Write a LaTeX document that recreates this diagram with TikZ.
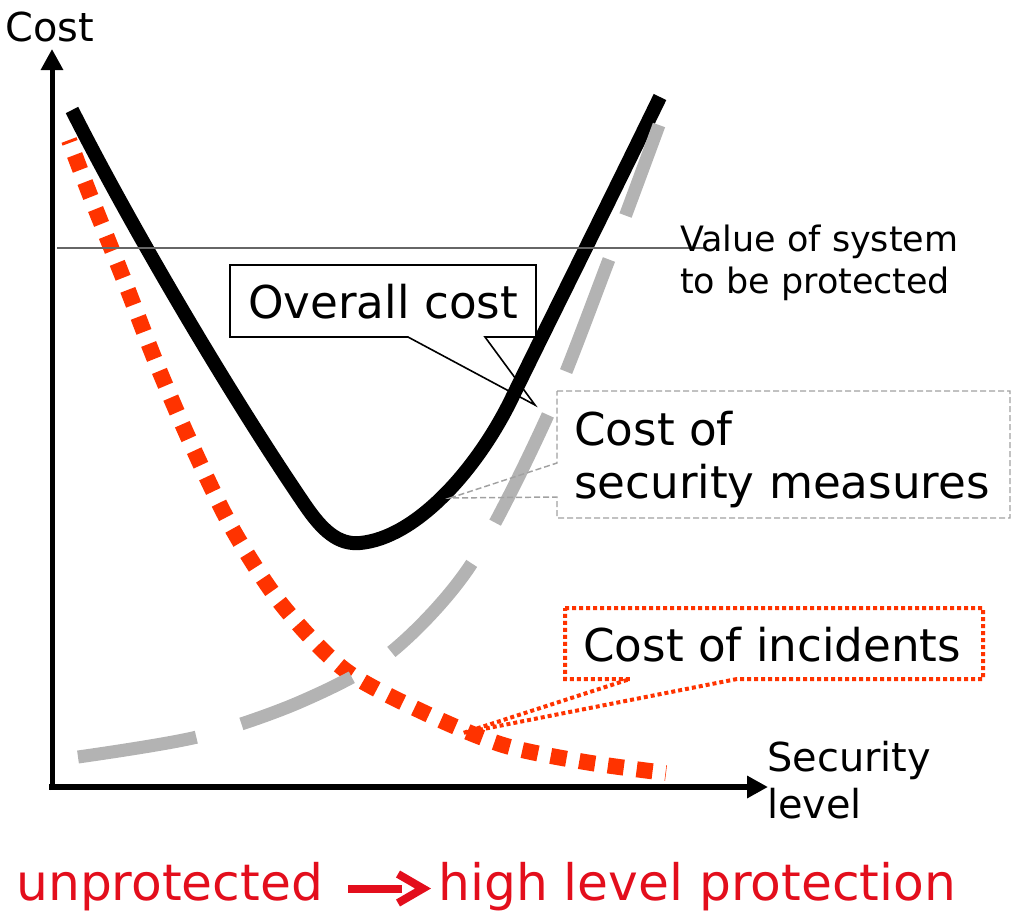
\documentclass[tikz,border=0pt]{standalone}
\usepackage{fontspec}
\setmainfont{DejaVu Sans}
\usetikzlibrary{arrows.meta}
\definecolor{grayc}{HTML}{B3B3B3}
\definecolor{orangec}{HTML}{FF3300}
\definecolor{redc}{HTML}{E30E1C}
\definecolor{valc}{HTML}{666666}
\begin{document}
\begin{tikzpicture}[x=0.75pt,y=-0.75pt,
  lbl/.style={inner sep=0pt, anchor=base west},
  bigfont/.style={font=\fontsize{33.9}{40}\selectfont},
  valfont/.style={font=\fontsize{26.2}{31}\selectfont},
  axfont/.style={font=\fontsize{29.9}{35}\selectfont},
  redfont/.style={font=\fontsize{37.7}{44}\selectfont, text=redc},
  axisline/.style={line width=#1, -{Triangle[length=15.75pt,width=16pt]}},
  overallcurve/.style={line width=10.5pt, black},
  securitycurve/.style={line width=9.75pt, grayc, dash pattern=on 90pt off 35.25pt},
  incidentcurve/.style={line width=12pt, orangec, dash pattern=on 12pt off 9.75pt, dash phase=9.75pt},
  calloutplain/.style={line width=1.2pt, black},
  calloutgray/.style={line width=1.1pt, grayc!90!black, dash pattern=on 4.5pt off 2.25pt},
  calloutred/.style={line width=3pt, orangec, dash pattern=on 3pt off 2.25pt},
  redarrow/.style={line width=6pt, redc}
]
\useasboundingbox (0,0) rectangle (1014,914);

% axes
\coordinate (O) at (52,787);
\coordinate (ytip) at (52,49);
\coordinate (xstart) at (49,787);
\coordinate (xtip) at (768,787);
\draw[axisline=3.75pt] (52,790) -- (ytip);
\draw[axisline=4.9pt] (xstart) -- (xtip);

% curves
\draw[incidentcurve] plot[smooth, tension=0.5] coordinates {(69,140) (90,195) (124,280) (157,365) (193,448) (233,530) (282,605) (345,670) (425,713) (503,745) (585,762) (666,773)};
\draw[overallcurve] (72,110) .. controls (130,225) and (230,395) .. (305,505)
  .. controls (322,530) and (338,545) .. (360,543)
  .. controls (415,538) and (475,472) .. (510,402)
  .. controls (540,340) and (610,200) .. (660,97);
\draw[securitycurve] plot[smooth, tension=0.5] coordinates {(78,757) (197,737) (300,702) (390,653) (470,566) (547,417) (608,262) (659,125)};

% value line
\coordinate (vstart) at (57,248);
\coordinate (vend) at (707,248);
\draw[valc, line width=1.5pt] (vstart) -- (vend);

% labels
\node[lbl, axfont] (costlbl) at (5,41) {Cost};
\node[lbl, axfont] (seclbl) at (767,771) {Security};
\node[lbl, axfont] (levlbl) at (767,818) {level};
\node[lbl, valfont] (val1) at (680,251) {Value of system};
\node[lbl, valfont] (val2) at (680,293) {to be protected};

% overall cost callout
\fill[white] (230,265) rectangle (536,337);
\draw[calloutplain] (230,265) -- (536,265) -- (536,337) -- (485,337) -- (535,405) -- (408,337) -- (230,337) -- cycle;
\node[lbl, bigfont] (overall) at (248,318) {Overall cost};

% security measures callout
\fill[white] (557,391) rectangle (1010,518);
\draw[calloutgray] (557,391) -- (1010,391) -- (1010,518) -- (557,518) -- (557,497) -- (450,498) -- (557,463) -- cycle;
\node[lbl, bigfont] (sec1) at (574,445) {Cost of};
\node[lbl, bigfont] (sec2) at (574,498) {security measures};

% incidents callout
\fill[white] (565,608) rectangle (983,679);
\draw[calloutred] (565,608) -- (983,608) -- (983,679) -- (737,679) -- (463,733) -- (630,679) -- (565,679) -- cycle;
\node[lbl, bigfont] (inc) at (583,661) {Cost of incidents};

% bottom
\node[lbl, redfont] (unprot) at (16,900) {unprotected};
\node[lbl, redfont] (highp) at (438,900) {high level protection};
\coordinate (bar1) at (348,889);
\coordinate (bar2) at (402,889);
\draw[redarrow] (bar1) -- (bar2);
\draw[redarrow] (398,874) -- (423,888.5) -- (398,903);
\end{tikzpicture}
\end{document}
